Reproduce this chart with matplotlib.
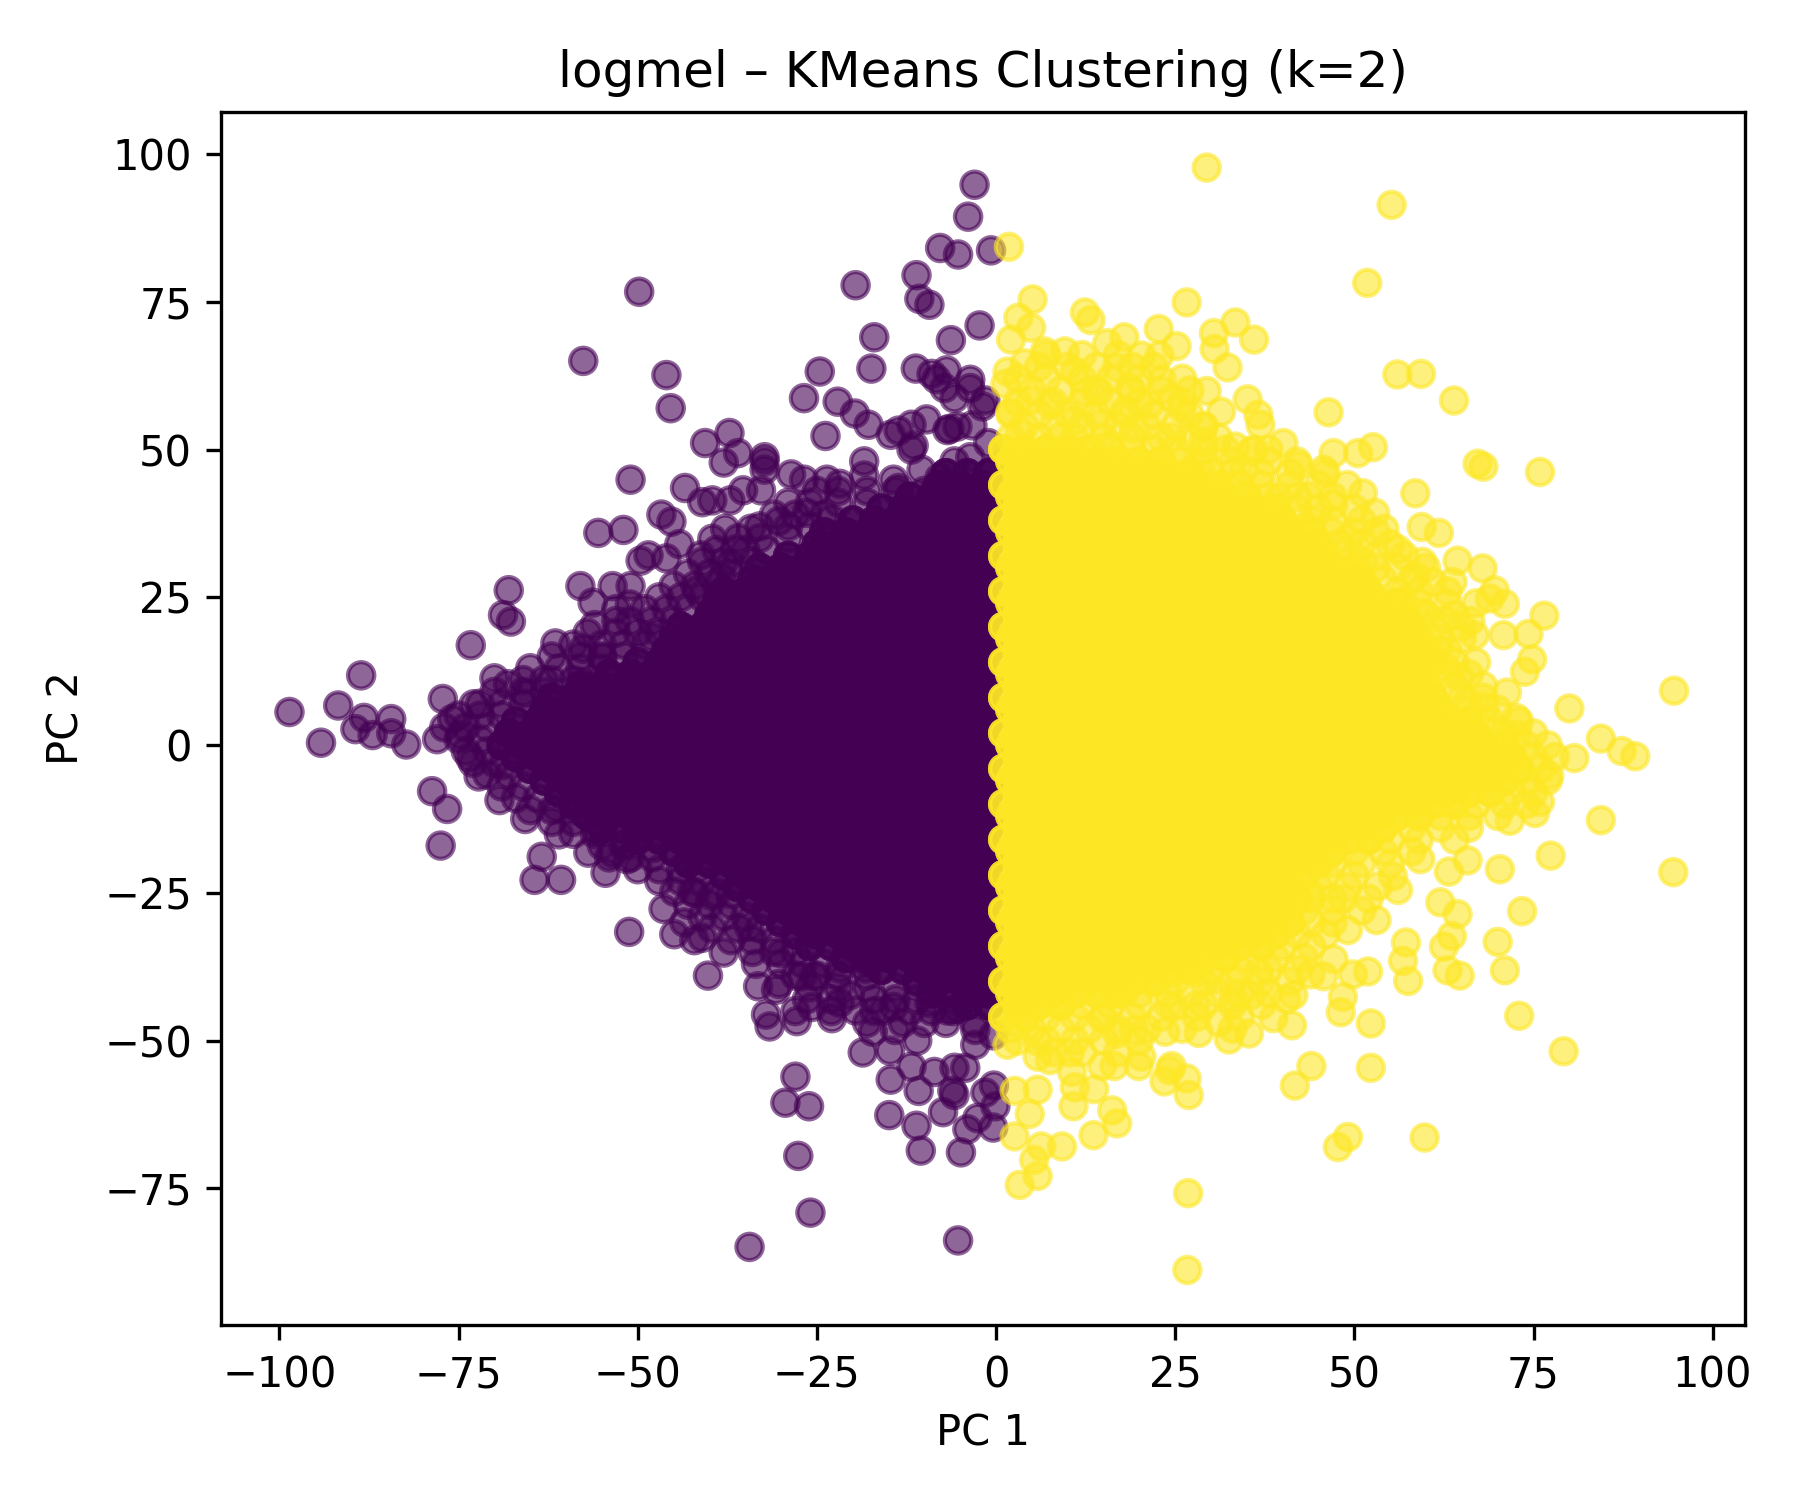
import numpy as np
import matplotlib
matplotlib.use('Agg')
import matplotlib.pyplot as plt

# points that can be read one by one, (PC 1, PC 2)
purple_sparse = [
    (-3.0,94.8),(-3.9,89.4),(-7.8,84.1),(-5.3,83.0),(-0.7,83.7),(-11.1,79.5),(-19.6,77.8),(-49.8,76.7),
    (-10.7,75.5),(-9.3,74.5),(-2.3,71.0),(-17,69),(-6.3,68.5),(-57.6,65.0),(-46,62.6),(-45.4,57.0),
    (-24.6,63.2),(-17.4,63.7),(-11.2,63.7),(-6.9,63.4),(-9,62.8),(-8.3,61.9),(-3.6,61.8),(-3.6,60.4),
    (-1.5,58.3),(-1.9,57.3),(-5.8,58.7),(-7.2,60.4),(-26.8,58.7),(-22.1,58.1),(-19.7,56.1),(-17.8,54.2),
    (-23.8,52.3),(-9.7,55.1),(-11.8,54.2),(-14.7,52.5),(-13.6,53.2),(-11.8,50),(-11.5,50.7),(-6.5,53.5),
    (-5.4,53.9),(-6.8,53.3),(-3.3,54.1),(-37.2,52.8),(-40.6,51.1),(-36,49.4),(-38,47.8),(-32.3,48.7),
    (-32.3,48),(-32.3,46.6),(-51,44.9),(-43.4,43.5),(-28.6,45.8),(-26.8,44.9),(-23.6,44.9),(-21.8,44.2),
    (-18.4,48),(-18.4,45.6),(-14.3,44.9),(-13.6,43.5),(-10.4,46.6),(-5.8,48),(-3.6,48.7),(-0.4,46.6),
    (-1.1,51.1),(-7.9,45.2),(-8.6,43.1),(-35.3,43.1),(-32.8,43.1),(-37.1,41.4),(-39.6,41.4),(-41,41.1),
    (-46.7,39),(-45.3,37.8),(-52,36.4),(-55.5,35.9),(-44.2,34),(-46,31.6),(-48.5,32.1),(-49.6,31.2),
    (-39.6,34.9),(-37.8,36.6),(-34.2,36.6),(-36.4,33.1),(-41.2,32.1),(-37.1,30.7),(-38.2,28.3),(-30.3,37.9),
    (-26.4,39.3),(-22.9,38.3),(-68,26.2),(-68.8,22),(-67.7,20.9),(-58,26.9),(-53.5,26.9),(-51,26.9),
    (-56.3,24.1),(-56,20.3),(-51.1,23.8),(-51.1,21),(-61.5,17.2),(-73.3,16.9),(-57.6,16.3),(-54.9,14.8),
    (-48.1,18.3),(-43.9,20),(-41.7,26.2),(-70,11.3),(-68.1,10.3),(-65.6,8.6),(-63.1,11),(-77.2,7.8),
    (-88.6,11.8),(-91.8,6.7),(-98.6,5.6),(-88.2,4.6),(-84.4,4.4),(-89.4,2.7),(-87,1.7),(-84.4,2),
    (-94.2,0.4),(-82.3,0.1),(-72.9,6.9),(-75.9,4.4),(-74.8,1.7),(-57.7,10.6),(-73.4,-2.1),(-72.2,-5.3),
    (-68.8,-3.4),(-78.7,-7.8),(-76.6,-10.8),(-77.5,-17),(-69.3,-9.3),(-65.7,-12.5),(-61,-15.1),(-63.4,-18.9),
    (-64.4,-22.8),(-60.7,-22.8),(-56.9,-18.2),(-54.5,-21.6),(-53.5,-18.3),(-51.5,-19.3),(-51.7,-16.7),
    (-61.3,-10.6),(-58.2,-11.2),(-55.6,-14.5),(-47.8,-17.4),(-44.9,-24.8),(-46.4,-27.7),(-43.5,-30),
    (-39.7,-31),(-44.9,-32),(-42.1,-33),(-41,-32.6),(-38,-35.1),(-51.2,-31.6),(-40.2,-39),(-34.5,-30.7),
    (-33.5,-37),(-33.2,-40.8),(-30.7,-41.4),(-30.3,-40.4),(-32.1,-45.6),(-31.6,-47.6),(-27.8,-46.7),
    (-25.7,-44.3),(-26.4,-43),(-22.9,-46.2),(-21.8,-43.6),(-19.6,-44.9),(-20.4,-42.3),(-17.2,-48.5),
    (-14.1,-48.2),(-11,-50),(-18.6,-52),(-14.8,-51.7),(-11.8,-54.4),(-8.6,-55.3),(-5.8,-54.6),(-4.3,-54.6),
    (-14.7,-56.6),(-10.8,-58.5),(-6.1,-58.5),(-5.8,-59.2),(-7.4,-62.1),(-14.9,-62.6),(-11.1,-64.4),
    (-10.5,-68.6),(-4.9,-68.9),(-4,-65),(-2.6,-63.1),(-0.4,-64.7),(-0.1,-61.1),(-1.5,-58.8),(-0.3,-57.6),
    (-28,-56.1),(-29.4,-60.5),(-26.1,-61.1),(-27.6,-69.5),(-25.9,-79.1),(-34.4,-84.9),(-5.3,-83.8),
    (-2.9,-48.2),(-2.9,-50.7),(-0.4,-49.1),(-6.8,-44.9),(-5.4,-44.6),(-9.3,-43.6),(-15.7,-44.9),(-14.3,-44.3),
    (-17.9,-36.8),(-18.2,-37.8),(-30,-35.2),(-27.1,-39.1),(-25.4,-39.1),(-21.8,-37.8),(-42.4,-24.8),
    (-39.6,-25.5),(-37.1,-25.2),(-41.7,-21),
]

yellow_sparse = [
    (29.4,97.7),(55.2,91.4),(1.8,84.3),(51.8,78.2),(5.1,75.4),(12.4,73.2),(13.2,71.9),(3.1,72.3),(4.9,70.6),
    (2.1,68.6),(26.6,74.9),(22.7,70.4),(25.2,67.5),(17.9,69),(15.5,68),(33.4,71.5),(36,68.6),(30.4,69.7),
    (30.5,67),(32.3,63.9),(56,62.7),(59.3,62.8),(63.9,58.3),(46.4,56.3),(29.4,59.9),(31.4,56.4),(35.1,58.5),
    (36.6,55.9),(36.9,54.2),(28.9,53.8),(28.9,51.3),(33.4,50.5),(35.6,49.7),(40.1,51.1),(38,50),(52.6,50.4),
    (50.5,49.4),(47.1,49.4),(67.2,47.6),(68,47.1),(75.9,46.2),(58.5,42.6),(51.2,42.6),(52.9,39.3),(54.2,36.6),
    (59.4,36.9),(61.8,35.9),(56.1,33.1),(64.4,31.2),(67.9,29.9),(58.5,28.6),(60.9,27.6),(63.7,27.6),(69.6,26.2),
    (68.9,24.8),(71,23.9),(76.5,21.9),(66.2,21),(66.8,18.6),(70.8,18.6),(74.3,18.8),(62.5,21.2),(74.8,14.5),
    (73.8,12.4),(71.3,8.9),(64.6,11.6),(62.7,13.1),(72.6,4.6),(70,2.4),(80,6.2),(94.6,9.2),(84.4,1.1),
    (87.3,-1),(89.2,-1.9),(9.6,66.6),(11,63.2),(4,64.6),(14.4,59.7),(16.9,63.9),(20.3,65.9),(22.8,65.9),
    (23.1,61.8),(18.6,60.4),(24.5,58.7),(17.9,56.6),(21.4,57.6),(14.8,54.5),(4.7,58.3),(24.5,52.1),(19.3,53.5),
    (8.9,52.1),(3.3,52.8),(15.8,50.7),(1.6,63.2),(1.3,61.1),(6.8,66.6),(12.4,59.7),(7.5,57.6),(11,54.9),
    (2,56.3),(25.9,57),(28.3,47.6),(34.6,46.6),(42.2,47.3),(45.7,46.6),(39.4,41.8),(43.6,42.1),(47.1,40.7),
    (43.6,36.9),(49.1,34.9),(51.2,31),(59.5,31),(56.8,24.5),(59.5,22.4),(61.6,16.2),(65.8,7.2),(68.2,6.5),
    (72.7,1.7),(80.7,-2.2),(84.4,-12.7),(94.5,-21.5),(77.2,-5.1),(75.9,-9.6),(75.2,-11.5),(71.7,-12.8),
    (77.4,-18.7),(70.3,-21),(65.8,-19.5),(63.2,-21.4),(73.4,-28.1),(70,-33.3),(71,-38.1),(73,-45.8),(79.2,-51.8),
    (62,-26.6),(64.4,-28.6),(63.6,-32.3),(62.5,-34.1),(63,-38.1),(64.7,-39),(57.2,-33.4),(56.8,-36.5),(57.5,-39.9),
    (53.1,-29.6),(56.1,-24.5),(53.3,-23.9),(55.4,-22.2),(59.2,-19.3),(48.4,-26),(43.9,-25.2),(49.1,-31.3),
    (51.9,-38.3),(49.8,-38.8),(45.7,-39.1),(43.9,-38.8),(47.1,-36.2),(48.4,-42.6),(48.1,-45.2),(52.3,-47.1),
    (52.3,-54.6),(44,-54.3),(41.7,-57.6),(49.1,-66.3),(47.7,-68),(59.8,-66.4),(26.8,-75.8),(26.7,-88.8),
    (41.5,-42.3),(40.5,-43),(41.3,-47.4),(38.7,-46.2),(35.6,-42.3),(35.3,-48.8),(32.5,-49.8),(31.1,-46.9),
    (28.3,-48.7),(27.8,-44.1),(23.6,-48.5),(24.8,-44.3),(20.3,-52.7),(19.9,-54.3),(24.5,-54.3),(24.2,-55),
    (23.5,-56.9),(26.6,-56.4),(26.9,-59.2),(16.5,-54.3),(14.8,-54.3),(13.7,-58.2),(10.8,-61.1),(16.2,-61.8),
    (16.9,-64),(13.6,-66),(10.6,-55.3),(11,-57.9),(5.8,-58.3),(4.7,-62.4),(2.6,-66.2),(6.3,-67.9),(9.2,-67.9),
    (5.3,-70.2),(5.8,-72.9),(3.3,-74.4),(5.8,-50.1),(5.8,-52.7),(7.5,-53.3),(10.3,-52),(14.8,-46.2),(16.9,-48.8),
    (19.3,-48.2),(1.6,-50.7),(2.6,-58.5),(17.9,-41.7),(24.2,-38.8),(28,-38.4),(30.7,-39.7),(36.6,-38.4),(33.2,-43),
]

# loose edge of each blob, estimated by row: PC 2 -> PC 1 values
purple_fringe = {
    43: [-10,-14,-18,-22,-25], 41: [-18,-22,-26,-29], 39: [-24,-28,-31], 37: [-26,-29,-33],
    35: [-29,-33,-36], 33: [-32,-35,-39], 31: [-34,-38,-41], 29: [-37,-40,-43], 27: [-39,-42,-45],
    25: [-41,-44,-47], 23: [-43,-46,-49,-53], 21: [-45,-48,-53], 19: [-47,-50,-53,-57],
    17: [-49,-52,-55,-59], 15: [-52,-55,-58,-62], 13: [-55,-58,-61,-65], 11: [-59,-62,-66],
    9: [-63,-66,-70], 7: [-66,-69,-72], 5: [-69,-72,-75], 3: [-71,-74,-77], 1: [-72,-75,-78],
    -1: [-71,-74], -3: [-70,-73], -5: [-68,-71], -7: [-66,-69], -9: [-64,-67], -11: [-62,-65],
    -13: [-59,-62], -15: [-56,-59], -17: [-52,-55], -19: [-48,-51,-54], -21: [-44,-47,-50],
    -23: [-41,-44,-47], -25: [-39,-42], -27: [-37,-40,-43], -29: [-35,-38,-41], -31: [-33,-36],
    -33: [-31,-34,-37], -35: [-28,-31,-34], -37: [-24,-27,-30], -39: [-18,-22,-25,-28],
    -41: [-14,-18,-22,-26], -43: [-11,-14,-17,-23], -45: [-6,-9,-12,-17,-23,-28], -47: [-3,-7,-10,-13,-18],
}

yellow_fringe = {
    66: [7,12,17], 64: [6,10,14,19,22], 62: [3,7,12,16,20,26], 60: [5,9,14,19,23,27], 58: [3,8,12,16,20,26],
    56: [2,6,10,14,18,22,27], 54: [4,8,12,17,21,25,29], 52: [2,6,11,15,19,23,27,31],
    50: [16,19,22,25,29,32,36], 48: [26,29,33,38,42], 46: [30,33,37,41,46], 44: [34,37,41,45,49],
    42: [38,42,47], 40: [42,45,50], 38: [44,47,51], 36: [47,50,53], 34: [48,51,55], 32: [50,53,57],
    30: [53,56,60], 28: [54,58], 26: [56,59,63], 24: [59,63,67], 22: [60,64], 20: [61,65], 18: [62,65],
    16: [63], 14: [64,67], 12: [63,66], 10: [64,68], 8: [65,68], 6: [66,70], 4: [69,73], 2: [71,75],
    0: [74,77], -2: [75,78], -4: [76], -6: [74,77], -8: [72,75], -10: [67,71,74], -12: [62,66,70],
    -14: [58,62,66], -16: [55,59,64], -18: [50,54,58], -20: [47,51,55], -22: [46,50], -24: [45,49],
    -26: [44,47,52], -28: [43,47,51], -30: [44,47], -32: [42,46], -34: [40,44], -36: [35,39,43],
    -38: [30,34,38,42], -40: [25,29,33,37,41], -42: [20,24,27,31,34,38], -44: [12,16,20,24,29,33,37],
    -46: [7,11,15,19,23,28,34], -48: [2,5,9,13,17,21,26,33], -50: [3,7,11,15,20], -52: [8,12,17],
}

# the solid blobs can't be read point by point, so these are estimated by row too
purple_core = {
    46: [-1,-4,-7],
    44: [-2,-5,-8],
    42: [-1,-3,-6,-9,-12],
    40: [-1,-4,-7,-10,-13,-16],
    38: [-2,-5,-8,-11,-14,-17,-20],
    36: [-1,-3,-6,-9,-12,-15,-18,-21,-24],
    34: [-1,-4,-7,-10,-13,-16,-19,-22,-25],
    32: [-2,-5,-8,-11,-14,-17,-20,-23,-26,-29],
    30: [-1,-3,-6,-9,-12,-15,-18,-21,-24,-27,-30,-33],
    28: [-1,-4,-7,-10,-13,-16,-19,-22,-25,-28,-31,-34],
    26: [-2,-5,-8,-11,-14,-17,-20,-23,-26,-29,-32,-35,-38],
    24: [-1,-3,-6,-9,-12,-15,-18,-21,-24,-27,-30,-33,-36,-39],
    22: [-1,-4,-7,-10,-13,-16,-19,-22,-25,-28,-31,-34,-37,-40],
    20: [-2,-5,-8,-11,-14,-17,-20,-23,-26,-29,-32,-35,-38,-41,-44],
    18: [-1,-3,-6,-9,-12,-15,-18,-21,-24,-27,-30,-33,-36,-39,-42,-45],
    16: [-1,-4,-7,-10,-13,-16,-19,-22,-25,-28,-31,-34,-37,-40,-43,-46],
    14: [-2,-5,-8,-11,-14,-17,-20,-23,-26,-29,-32,-35,-38,-41,-44,-47,-50],
    12: [-1,-3,-6,-9,-12,-15,-18,-21,-24,-27,-30,-33,-36,-39,-42,-45,-48,-51,-54],
    10: [-1,-4,-7,-10,-13,-16,-19,-22,-25,-28,-31,-34,-37,-40,-43,-46,-49,-52,-55,-58],
    8: [-2,-5,-8,-11,-14,-17,-20,-23,-26,-29,-32,-35,-38,-41,-44,-47,-50,-53,-56,-59,-62],
    6: [-1,-3,-6,-9,-12,-15,-18,-21,-24,-27,-30,-33,-36,-39,-42,-45,-48,-51,-54,-57,-60,-63],
    4: [-1,-4,-7,-10,-13,-16,-19,-22,-25,-28,-31,-34,-37,-40,-43,-46,-49,-52,-55,-58,-61,-64,-67],
    2: [-2,-5,-8,-11,-14,-17,-20,-23,-26,-29,-32,-35,-38,-41,-44,-47,-50,-53,-56,-59,-62,-65,-68],
    0: [-1,-3,-6,-9,-12,-15,-18,-21,-24,-27,-30,-33,-36,-39,-42,-45,-48,-51,-54,-57,-60,-63,-66,-69],
    -2: [-1,-4,-7,-10,-13,-16,-19,-22,-25,-28,-31,-34,-37,-40,-43,-46,-49,-52,-55,-58,-61,-64,-67],
    -4: [-2,-5,-8,-11,-14,-17,-20,-23,-26,-29,-32,-35,-38,-41,-44,-47,-50,-53,-56,-59,-62,-65],
    -6: [-1,-3,-6,-9,-12,-15,-18,-21,-24,-27,-30,-33,-36,-39,-42,-45,-48,-51,-54,-57,-60,-63],
    -8: [-1,-4,-7,-10,-13,-16,-19,-22,-25,-28,-31,-34,-37,-40,-43,-46,-49,-52,-55,-58,-61],
    -10: [-2,-5,-8,-11,-14,-17,-20,-23,-26,-29,-32,-35,-38,-41,-44,-47,-50,-53,-56,-59],
    -12: [-1,-3,-6,-9,-12,-15,-18,-21,-24,-27,-30,-33,-36,-39,-42,-45,-48,-51,-54,-57],
    -14: [-1,-4,-7,-10,-13,-16,-19,-22,-25,-28,-31,-34,-37,-40,-43,-46,-49,-52,-55],
    -16: [-2,-5,-8,-11,-14,-17,-20,-23,-26,-29,-32,-35,-38,-41,-44,-47,-50],
    -18: [-1,-3,-6,-9,-12,-15,-18,-21,-24,-27,-30,-33,-36,-39,-42,-45],
    -20: [-1,-4,-7,-10,-13,-16,-19,-22,-25,-28,-31,-34,-37,-40,-43],
    -22: [-2,-5,-8,-11,-14,-17,-20,-23,-26,-29,-32,-35,-38],
    -24: [-1,-3,-6,-9,-12,-15,-18,-21,-24,-27,-30,-33,-36],
    -26: [-1,-4,-7,-10,-13,-16,-19,-22,-25,-28,-31,-34],
    -28: [-2,-5,-8,-11,-14,-17,-20,-23,-26,-29,-32],
    -30: [-1,-3,-6,-9,-12,-15,-18,-21,-24,-27,-30],
    -32: [-1,-4,-7,-10,-13,-16,-19,-22,-25,-28],
    -34: [-2,-5,-8,-11,-14,-17,-20,-23,-26],
    -36: [-1,-3,-6,-9,-12,-15,-18,-21],
    -38: [-1,-4,-7,-10,-13,-16],
    -40: [-2,-5,-8,-11],
    -42: [-1,-3,-6,-9],
    -44: [-1,-4],
}

yellow_core = {
    50: [1,4,7,10,13],
    48: [2,5,8,11,14,17,20,23],
    46: [3,6,9,12,15,18,21,24,27],
    44: [1,4,7,10,13,16,19,22,25,28,31],
    42: [2,5,8,11,14,17,20,23,26,29,32,35],
    40: [3,6,9,12,15,18,21,24,27,30,33,36,39],
    38: [1,4,7,10,13,16,19,22,25,28,31,34,37,40],
    36: [2,5,8,11,14,17,20,23,26,29,32,35,38,41,44],
    34: [3,6,9,12,15,18,21,24,27,30,33,36,39,42,45],
    32: [1,4,7,10,13,16,19,22,25,28,31,34,37,40,43,46],
    30: [2,5,8,11,14,17,20,23,26,29,32,35,38,41,44,47,50],
    28: [3,6,9,12,15,18,21,24,27,30,33,36,39,42,45,48,51],
    26: [1,4,7,10,13,16,19,22,25,28,31,34,37,40,43,46,49,52],
    24: [2,5,8,11,14,17,20,23,26,29,32,35,38,41,44,47,50,53,56],
    22: [3,6,9,12,15,18,21,24,27,30,33,36,39,42,45,48,51,54,57],
    20: [1,4,7,10,13,16,19,22,25,28,31,34,37,40,43,46,49,52,55,58],
    18: [2,5,8,11,14,17,20,23,26,29,32,35,38,41,44,47,50,53,56,59],
    16: [3,6,9,12,15,18,21,24,27,30,33,36,39,42,45,48,51,54,57,60],
    14: [1,4,7,10,13,16,19,22,25,28,31,34,37,40,43,46,49,52,55,58,61],
    12: [2,5,8,11,14,17,20,23,26,29,32,35,38,41,44,47,50,53,56,59],
    10: [3,6,9,12,15,18,21,24,27,30,33,36,39,42,45,48,51,54,57,60],
    8: [1,4,7,10,13,16,19,22,25,28,31,34,37,40,43,46,49,52,55,58,61],
    6: [2,5,8,11,14,17,20,23,26,29,32,35,38,41,44,47,50,53,56,59,62],
    4: [3,6,9,12,15,18,21,24,27,30,33,36,39,42,45,48,51,54,57,60,63,66],
    2: [1,4,7,10,13,16,19,22,25,28,31,34,37,40,43,46,49,52,55,58,61,64,67],
    0: [2,5,8,11,14,17,20,23,26,29,32,35,38,41,44,47,50,53,56,59,62,65,68,71],
    -2: [3,6,9,12,15,18,21,24,27,30,33,36,39,42,45,48,51,54,57,60,63,66,69,72],
    -4: [1,4,7,10,13,16,19,22,25,28,31,34,37,40,43,46,49,52,55,58,61,64,67,70,73],
    -6: [2,5,8,11,14,17,20,23,26,29,32,35,38,41,44,47,50,53,56,59,62,65,68,71],
    -8: [3,6,9,12,15,18,21,24,27,30,33,36,39,42,45,48,51,54,57,60,63,66,69],
    -10: [1,4,7,10,13,16,19,22,25,28,31,34,37,40,43,46,49,52,55,58,61,64],
    -12: [2,5,8,11,14,17,20,23,26,29,32,35,38,41,44,47,50,53,56,59],
    -14: [3,6,9,12,15,18,21,24,27,30,33,36,39,42,45,48,51,54],
    -16: [1,4,7,10,13,16,19,22,25,28,31,34,37,40,43,46,49,52],
    -18: [2,5,8,11,14,17,20,23,26,29,32,35,38,41,44,47],
    -20: [3,6,9,12,15,18,21,24,27,30,33,36,39,42,45],
    -22: [1,4,7,10,13,16,19,22,25,28,31,34,37,40,43],
    -24: [2,5,8,11,14,17,20,23,26,29,32,35,38,41],
    -26: [3,6,9,12,15,18,21,24,27,30,33,36,39,42],
    -28: [1,4,7,10,13,16,19,22,25,28,31,34,37,40],
    -30: [2,5,8,11,14,17,20,23,26,29,32,35,38,41],
    -32: [3,6,9,12,15,18,21,24,27,30,33,36,39],
    -34: [1,4,7,10,13,16,19,22,25,28,31,34,37],
    -36: [2,5,8,11,14,17,20,23,26,29,32],
    -38: [3,6,9,12,15,18,21,24,27],
    -40: [1,4,7,10,13,16,19,22],
    -42: [2,5,8,11,14,17],
    -44: [3,6,9],
    -46: [1,4],
}

x_ticks = [-100, -75, -50, -25, 0, 25, 50, 75, 100]
y_ticks = [-75, -50, -25, 0, 25, 50, 75, 100]


def flatten(sparse, fringe, core):
    xs = [p[0] for p in sparse]
    ys = [p[1] for p in sparse]
    for y, row in fringe.items():
        xs += row
        ys += [y] * len(row)
    # the real blobs are heavily overplotted, so the core goes in more than once
    for i in range(3):
        for y, row in core.items():
            xs += row
            ys += [y] * len(row)
    return xs, ys


px, py = flatten(purple_sparse, purple_fringe, purple_core)
yx, yy = flatten(yellow_sparse, yellow_fringe, yellow_core)
labels = np.array([0] * len(px) + [1] * len(yx))

fig, ax = plt.subplots(figsize=(6, 5), dpi=300)
ax.scatter(px + yx, py + yy, c=labels, cmap='viridis', s=40, alpha=0.6)
ax.set_xlim(-108.1, 104.5)
ax.set_ylim(-98.1, 107.1)
ax.set_xticks(x_ticks)
ax.set_yticks(y_ticks)
ax.set_title('logmel – KMeans Clustering (k=2)')
ax.set_xlabel('PC 1')
ax.set_ylabel('PC 2')
fig.subplots_adjust(left=0.123, right=0.9694, top=0.9253, bottom=0.1167)
fig.savefig('out.png')
